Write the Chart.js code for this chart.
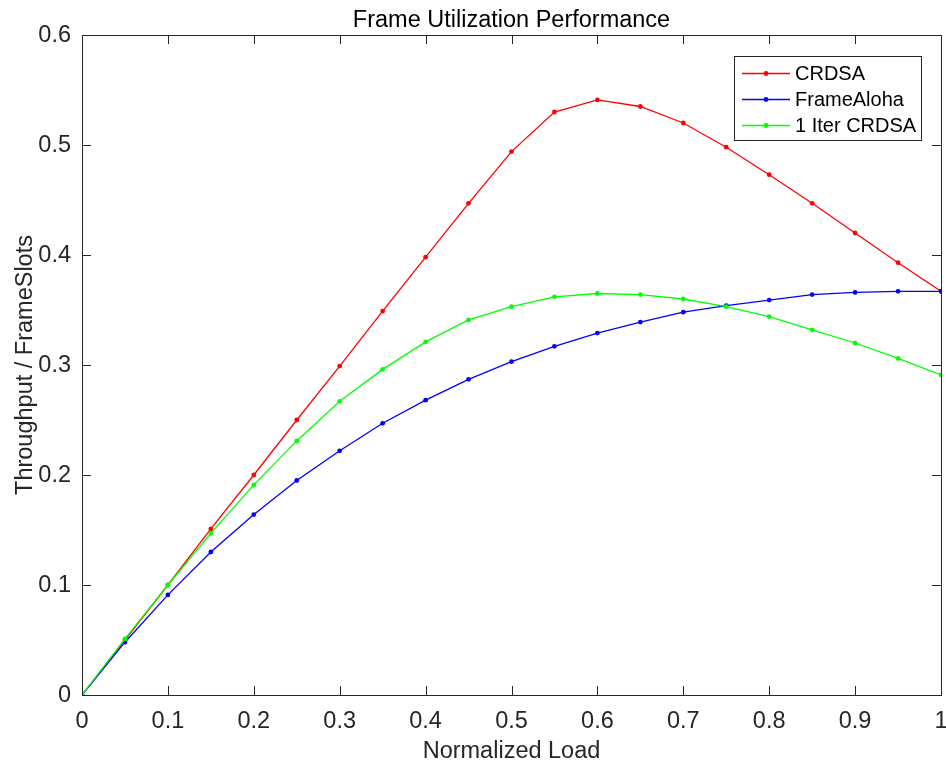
<!DOCTYPE html>
<html>
<head>
<meta charset="utf-8">
<script src="https://cdn.jsdelivr.net/npm/chart.js@4/dist/chart.umd.min.js"></script>
<style>
  html, body { margin: 0; padding: 0; background: #fff; }
  #wrap { width: 946px; height: 763px; }
</style>
</head>
<body>
<div id="wrap"><canvas id="chart" width="946" height="763"></canvas></div>
<script>
// normalized load (x)
const loads = [0, 0.05, 0.1, 0.15, 0.2, 0.25, 0.3, 0.35, 0.4, 0.45, 0.5,
               0.55, 0.6, 0.65, 0.7, 0.75, 0.8, 0.85, 0.9, 0.95, 1];

const crdsa = [0, 0.050, 0.100, 0.151, 0.200, 0.250, 0.299, 0.349, 0.398, 0.447, 0.494,
               0.530, 0.541, 0.535, 0.520, 0.498, 0.473, 0.447, 0.420, 0.393, 0.367];

const frameAloha = [0, 0.048, 0.091, 0.130, 0.164, 0.195, 0.222, 0.247, 0.268, 0.287, 0.303,
                    0.317, 0.329, 0.339, 0.348, 0.354, 0.359, 0.364, 0.366, 0.367, 0.367];

const oneIterCrdsa = [0, 0.051, 0.100, 0.147, 0.191, 0.231, 0.267, 0.296, 0.321, 0.341, 0.353,
                      0.362, 0.365, 0.364, 0.360, 0.353, 0.344, 0.332, 0.320, 0.306, 0.291];

const xTicks = [0, 0.1, 0.2, 0.3, 0.4, 0.5, 0.6, 0.7, 0.8, 0.9, 1];
const yTicks = [0, 0.1, 0.2, 0.3, 0.4, 0.5, 0.6];

const seriesNames = ['CRDSA', 'FrameAloha', '1 Iter CRDSA'];
const seriesColors = ['#ff0000', '#0000ff', '#00ff00'];

const FONT = '"Liberation Sans", Arial, Helvetica, sans-serif';
const AXIS_COLOR = '#262626';
const TEXT_SIZE = 23.5;

function toPoints(ys) {
    return loads.map((x, i) => ({ x: x, y: ys[i] }));
}

function makeSet(label, ys, color, order) {
    return {
        label: label,
        data: toPoints(ys),
        borderColor: color,
        backgroundColor: color,
        borderWidth: 1.3,
        pointRadius: 2.4,
        pointBorderWidth: 0,
        pointBackgroundColor: color,
        tension: 0,
        order: order
    };
}

// drop the automatic edge padding so the plot box sits where MATLAB put it
function noEdgePadding(scale) {
    scale.paddingLeft = 0;
    scale.paddingRight = 0;
    scale.paddingTop = 0;
    scale.paddingBottom = 0;
}

// MATLAB-like frame: inward ticks on all four sides, box, title, axis labels, legend
const matlabFrame = {
    id: 'matlabFrame',
    afterDraw(chart) {
        const ctx = chart.ctx;
        const area = chart.chartArea;
        const xs = chart.scales.x;
        const ys = chart.scales.y;
        const tl = 9;

        ctx.save();
        ctx.strokeStyle = AXIS_COLOR;
        ctx.lineWidth = 1;

        // box
        ctx.strokeRect(Math.round(area.left) + 0.5, Math.round(area.top) + 0.5,
                       Math.round(area.right - area.left), Math.round(area.bottom - area.top));

        ctx.beginPath();
        xTicks.forEach(v => {
            const px = Math.round(xs.getPixelForValue(v)) + 0.5;
            ctx.moveTo(px, area.bottom);
            ctx.lineTo(px, area.bottom - tl);
            ctx.moveTo(px, area.top);
            ctx.lineTo(px, area.top + tl);
        });
        yTicks.forEach(v => {
            const py = Math.round(ys.getPixelForValue(v)) + 0.5;
            ctx.moveTo(area.left, py);
            ctx.lineTo(area.left + tl, py);
            ctx.moveTo(area.right, py);
            ctx.lineTo(area.right - tl, py);
        });
        ctx.stroke();

        // title
        const cx = (area.left + area.right) / 2;
        ctx.fillStyle = '#000';
        ctx.font = TEXT_SIZE + 'px ' + FONT;
        ctx.textAlign = 'center';
        ctx.textBaseline = 'alphabetic';
        ctx.fillText('Frame Utilization Performance', cx, 27);

        // axis titles
        ctx.fillStyle = AXIS_COLOR;
        ctx.fillText('Normalized Load', cx, 758);
        ctx.save();
        ctx.translate(32, (area.top + area.bottom) / 2);
        ctx.rotate(-Math.PI / 2);
        ctx.fillText('Throughput / FrameSlots', 0, 0);
        ctx.restore();

        // legend
        const bx = 734.5, by = 56.5, bw = 187, bh = 84;
        ctx.fillStyle = '#fff';
        ctx.fillRect(bx, by, bw, bh);
        ctx.strokeStyle = AXIS_COLOR;
        ctx.strokeRect(bx, by, bw, bh);
        ctx.font = '20px ' + FONT;
        ctx.textAlign = 'left';
        ctx.textBaseline = 'middle';
        ctx.lineWidth = 1.3;
        seriesNames.forEach((name, i) => {
            const ly = 73 + i * 26;
            ctx.strokeStyle = seriesColors[i];
            ctx.beginPath();
            ctx.moveTo(742, ly + 0.5);
            ctx.lineTo(790, ly + 0.5);
            ctx.stroke();
            ctx.fillStyle = seriesColors[i];
            ctx.beginPath();
            ctx.arc(766, ly + 0.5, 2.4, 0, Math.PI * 2);
            ctx.fill();
            ctx.fillStyle = '#000';
            ctx.fillText(name, 795, ly + 1);
        });
        ctx.restore();
    }
};

const ctx = document.getElementById('chart').getContext('2d');
new Chart(ctx, {
    type: 'line',
    data: {
        datasets: [
            makeSet(seriesNames[0], crdsa, seriesColors[0], 3),
            makeSet(seriesNames[1], frameAloha, seriesColors[1], 2),
            makeSet(seriesNames[2], oneIterCrdsa, seriesColors[2], 1)
        ]
    },
    options: {
        responsive: false,
        animation: false,
        layout: { padding: { top: 35, right: 5, left: 0, bottom: 0 } },
        plugins: {
            legend: { display: false },
            title: { display: false },
            tooltip: { enabled: false }
        },
        scales: {
            x: {
                type: 'linear',
                min: 0,
                max: 1,
                afterFit(scale) { scale.height = 68; noEdgePadding(scale); },
                afterBuildTicks(scale) { scale.ticks = xTicks.map(v => ({ value: v })); },
                grid: { display: false, drawTicks: false },
                border: { display: false },
                ticks: {
                    color: AXIS_COLOR,
                    font: { family: FONT, size: TEXT_SIZE },
                    padding: 12,
                    maxRotation: 0,
                    callback: v => String(v)
                }
            },
            y: {
                type: 'linear',
                min: 0,
                max: 0.6,
                afterFit(scale) { scale.width = 82; noEdgePadding(scale); },
                afterBuildTicks(scale) { scale.ticks = yTicks.map(v => ({ value: v })); },
                grid: { display: false, drawTicks: false },
                border: { display: false },
                ticks: {
                    color: AXIS_COLOR,
                    font: { family: FONT, size: TEXT_SIZE },
                    padding: 11,
                    labelOffset: 1,
                    callback: v => String(v)
                }
            }
        }
    },
    plugins: [matlabFrame]
});
</script>
</body>
</html>
